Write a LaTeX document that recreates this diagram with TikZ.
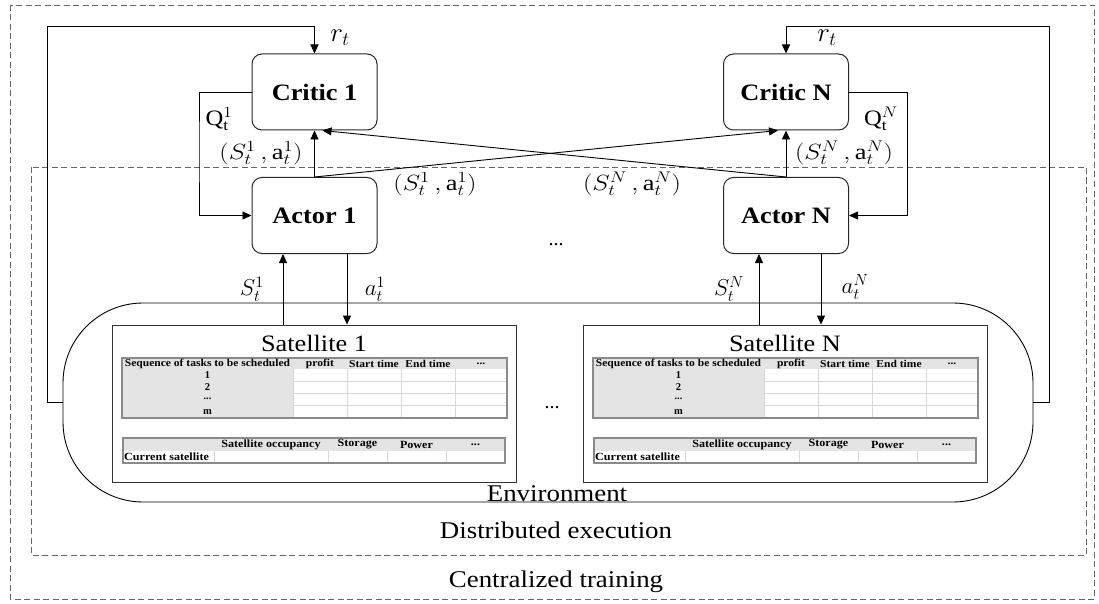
\RequirePackage{fix-cm}
\documentclass[tikz,border=0pt]{standalone}
\usepackage{fontspec}
\setmainfont{Liberation Serif}
\usepackage{graphicx}
\usetikzlibrary{arrows.meta}
\newcommand\hs[2][1.12]{\scalebox{#1}[1]{#2}}
\newcommand\fsz[1]{\fontsize{#1}{#1}\selectfont}
\definecolor{cellgray}{HTML}{E4E4E4}
\definecolor{gridgray}{HTML}{D8D8D8}
\definecolor{bordergray}{HTML}{8A8A8A}
\tikzset{
  agent/.style={draw=black!85, line width=1pt, rounded corners=10pt, minimum width=125pt, minimum height=76pt, inner sep=0pt, font=\fsz{23.5}\bfseries},
  conn/.style={draw=black, line width=0.9pt},
  arr/.style={conn, -{Triangle[length=9pt,width=8pt]}},
  frame/.style={draw=black!60, dash pattern=on 6pt off 3.5pt, line width=0.9pt},
  lbl/.style={inner sep=0pt, font=\fsz{22}},
  big/.style={inner sep=0pt, font=\fsz{24}},
  satbox/.style={draw=black!80, line width=0.9pt, fill=white, minimum width=404pt, minimum height=157pt, inner sep=0pt},
  tb/.style={inner sep=0pt, font=\fsz{10.5}\bfseries},
  tbl/.style={draw=bordergray, line width=1.1pt},
  grid/.style={draw=gridgray, line width=0.6pt}
}
\begin{document}
\begin{tikzpicture}[x=1pt,y=-1pt]
\useasboundingbox (0,0) rectangle (1099,604);
% frames
\draw[frame] (10,5) rectangle (1094,599);
\draw[frame] (31,167) rectangle (1086,555);
\node[big] (dist) at (556,530) {\hs{Distributed execution}};
\node[big] (cent) at (556,582) {\hs{Centralized training}};
% environment
\node[draw=black, line width=0.9pt, rounded corners=80pt, minimum width=970pt, minimum height=199pt, inner sep=0pt] (env) at (548,402.5) {};
\node[big] (envl) at (557,494) {\hs{Environment}};
% satellites
\node[satbox] (s1) at (314,403.5) {};
\node[satbox] (sN) at (785,403.5) {};
\node[big, font=\fsz{23.5}] (t1) at (314,343) {\hs{Satellite 1}};
\node[big, font=\fsz{23.5}] (tN) at (785,343) {\hs{Satellite N}};
\node[big, font=\fsz{20}] (sdots) at (552,408) {...};
% tables
\foreach \k/\x in {1/122, 2/593}{
  % table 1
  \fill[white] (\x,358) rectangle (\x+385,418);
  \fill[cellgray] (\x,358) rectangle (\x+385,369);
  \fill[cellgray] (\x,358) rectangle (\x+171,418);
  \foreach \yy in {381.25,393.5,405.75}{\draw[grid] (\x+171,\yy) -- (\x+385,\yy);}
  \foreach \cc in {225,279,333}{\draw[grid] (\x+\cc,369) -- (\x+\cc,418);}
  \draw[grid] (\x+171,369) -- (\x+171,418);
  \draw[tbl] (\x,358) rectangle (\x+385,418);
  \node[tb] (seq\k) at (\x+85.5,363.5) {\hs[1.1]{Sequence of tasks to be scheduled}};
  \node[tb] (pro\k) at (\x+198,363.5) {\hs[1.1]{profit}};
  \node[tb] (st\k) at (\x+252,363.5) {\hs[1.1]{Start time}};
  \node[tb] (et\k) at (\x+306,363.5) {\hs[1.1]{End time}};
  \node[tb] (hd\k) at (\x+359,363.5) {\hs[1.1]{...}};
  \node[tb] (r1\k) at (\x+85.5,375) {1};
  \node[tb] (r2\k) at (\x+85.5,387.5) {2};
  \node[tb] (r3\k) at (\x+85.5,399) {...};
  \node[tb] (r4\k) at (\x+85.5,412) {m};
  % table 2
  \fill[white] (\x+1,438) rectangle (\x+383,463);
  \fill[cellgray] (\x+1,438) rectangle (\x+383,451);
  \foreach \cc in {92,206,265,324}{\draw[grid] (\x+\cc,451) -- (\x+\cc,463);}
  \draw[tbl] (\x+1,438) rectangle (\x+383,463);
  \node[tb, font=\fsz{11}\bfseries] (occ\k) at (\x+149,444.5) {\hs[1.1]{Satellite occupancy}};
  \node[tb, font=\fsz{11}\bfseries] (sto\k) at (\x+235.5,444.5) {\hs[1.1]{Storage}};
  \node[tb, font=\fsz{11}\bfseries] (pow\k) at (\x+294.5,444.5) {\hs[1.1]{Power}};
  \node[tb, font=\fsz{11}\bfseries] (hd2\k) at (\x+353.5,444.5) {\hs[1.1]{...}};
  \node[tb, font=\fsz{11}\bfseries, anchor=west] (cur\k) at (\x+2,457) {\hs[1.1]{Current satellite}};
}
% agents
\node[agent] (c1) at (314.5,92) {\hs{Critic 1}};
\node[agent] (a1) at (314.5,215.5) {\hs{Actor 1}};
\node[agent] (cN) at (786,92) {\hs{Critic N}};
\node[agent] (aN) at (786,215.5) {\hs{Actor N}};
\node[big, font=\fsz{20}] (adots) at (556,245) {...};
% coordinates
\coordinate (fl) at (47,26);
\coordinate (fr) at (1049,26);
\coordinate (q1) at (199,150);
\coordinate (qN) at (907,150);
% reward feedback
\draw[arr] (env.west) -| (fl) -| (c1.north);
\draw[arr] (env.east) -| (fr) -| (cN.north);
% Q feedback
\draw[arr] (c1.west) -| (q1) |- (a1.west);
\draw[arr] (cN.east) -| (qN) |- (aN.east);
% actor to critic
\draw[arr] (a1.north) -- (c1.south);
\draw[arr] (aN.north) -- (cN.south);
\draw[arr] (a1.north) -- ([xshift=-8pt]cN.south);
\draw[arr] (aN.north) -- ([xshift=8pt]c1.south);
% states and actions
\draw[arr] ([xshift=-31pt]s1.north) -- ([xshift=-31.5pt]a1.south);
\draw[arr] ([xshift=32.5pt]a1.south) -- ([xshift=33pt]s1.north);
\draw[arr] ([xshift=-26pt]sN.north) -- ([xshift=-27pt]aN.south);
\draw[arr] ([xshift=35pt]aN.south) -- ([xshift=36pt]sN.north);
% labels
\node[lbl, font=\fsz{27}] (r1) at (340,38) {$r_t$};
\node[lbl, font=\fsz{27}] (rN) at (827,38) {$r_t$};
\node[lbl] (Q1) at (219,119) {\hs{$\mathrm{Q}_{\mathrm{t}}^{1}$}};
\node[lbl] (QN) at (881,119) {\hs{$\mathrm{Q}_{\mathrm{t}}^{N}$}};
\node[lbl] (v1) at (261,153) {\hs[1.2]{$(S_t^1\,,\mathrm{a}_t^1)$}};
\node[lbl] (vN) at (844,153) {\hs[1.2]{$(S_t^N\,,\mathrm{a}_t^N)$}};
\node[lbl] (x1) at (435,184) {\hs[1.2]{$(S_t^1\,,\mathrm{a}_t^1)$}};
\node[lbl] (xN) at (632,184) {\hs[1.2]{$(S_t^N\,,\mathrm{a}_t^N)$}};
\node[lbl, font=\fsz{23}] (ls1) at (252,289) {$S_t^1$};
\node[lbl, font=\fsz{23}] (la1) at (375,289) {$a_t^1$};
\node[lbl, font=\fsz{23}] (lsN) at (729,289) {$S_t^N$};
\node[lbl, font=\fsz{23}] (laN) at (855,287) {$a_t^N$};
\end{tikzpicture}
\end{document}
